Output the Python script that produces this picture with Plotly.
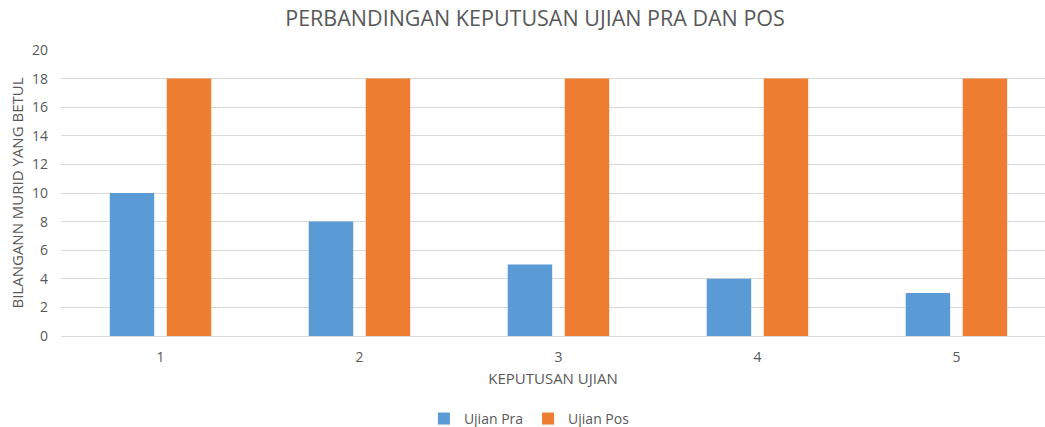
import plotly.graph_objects as go

categories = [1, 2, 3, 4, 5]
ujian_pra = [10, 8, 5, 4, 3]
ujian_pos = [18, 18, 18, 18, 18]
tick_labels = ["1", "2", "3", "4", "5"]

FONT = "Open Sans"
GREY = "#595959"

fig = go.Figure()
fig.add_trace(go.Bar(x=categories, y=ujian_pra, name="Ujian Pra",
                     marker=dict(color="#5B9BD5", line=dict(width=0))))
fig.add_trace(go.Bar(x=categories, y=ujian_pos, name="Ujian Pos",
                     marker=dict(color="#ED7D31", line=dict(width=0))))

fig.update_layout(
    width=1045, height=427,
    margin=dict(l=61, r=0, t=50, b=91, autoexpand=False),
    paper_bgcolor="white", plot_bgcolor="white",
    barmode="group", bargap=0.427, bargroupgap=0.22,
    font=dict(family=FONT, color=GREY, size=14),
    title=dict(text="PERBANDINGAN KEPUTUSAN UJIAN PRA DAN POS",
               x=0.512, xanchor="center", y=0.957, yanchor="middle",
               font=dict(size=21.5, color=GREY, family=FONT)),
    legend=dict(orientation="h", x=0.476, xanchor="center", y=-0.29, yanchor="middle",
                font=dict(size=14, color=GREY), itemwidth=30, traceorder="normal"),
    showlegend=True,
)
fig.update_xaxes(range=[0.5, 5.445], tickvals=categories, ticktext=tick_labels,
                 showgrid=False, zeroline=False, showline=False, ticks="",
                 automargin=False,
                 ticklabelstandoff=11, tickfont=dict(size=14),
                 title=dict(text="KEPUTUSAN UJIAN", font=dict(size=15, color=GREY), standoff=8))
fig.update_yaxes(range=[0, 20], dtick=2, showgrid=True, gridcolor="#D9D9D9", gridwidth=1,
                 zeroline=True, zerolinecolor="#D9D9D9", zerolinewidth=1,
                 showline=False, ticks="", ticklabelstandoff=12, tickfont=dict(size=14),
                 automargin=False,
                 title=dict(text="BILANGANN MURID YANG BETUL", font=dict(size=15, color=GREY), standoff=4))

fig.write_html("out.html", config={"displayModeBar": False},
               post_script="document.body.style.margin='0px';")
